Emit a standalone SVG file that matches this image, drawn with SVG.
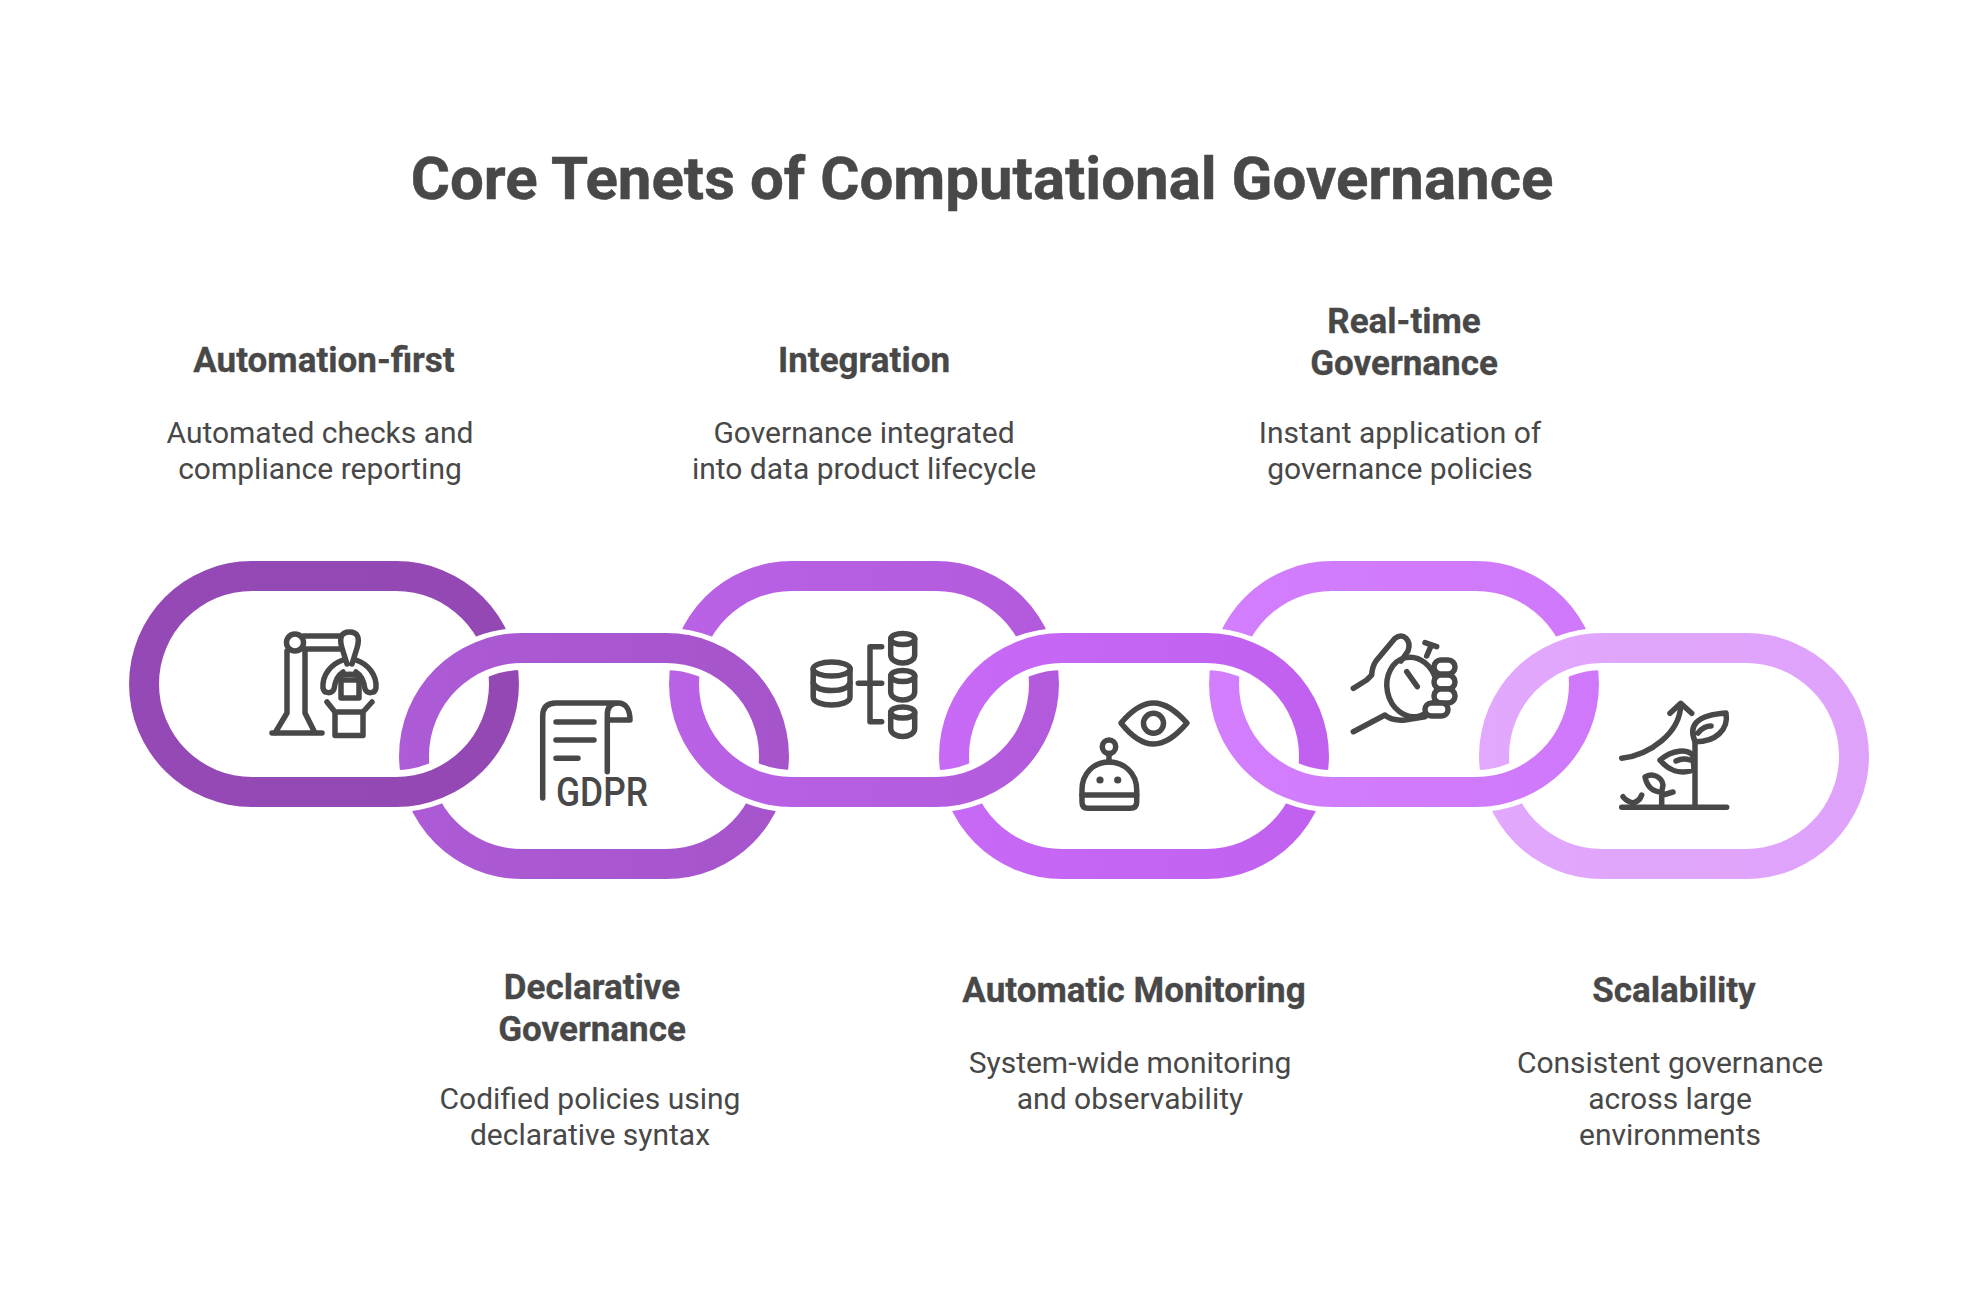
<svg xmlns="http://www.w3.org/2000/svg" width="1962" height="1296" viewBox="0 0 1962 1296">
<style>
text{font-family:Roboto,"Liberation Sans",sans-serif;fill:#484848;text-anchor:middle}
.title{font-size:60px;font-weight:700;stroke:#484848;stroke-width:.5}
.head{font-size:35px;font-weight:700;stroke:#484848;stroke-width:.3}
.body{font-size:30px;font-weight:400}
.ic{fill:none;stroke:#484848;stroke-width:5.5;stroke-linecap:round;stroke-linejoin:round}
.dot{fill:#484848;stroke:none}
.hs{fill:none;stroke:#fff}
.ho{stroke-width:10}
.hi{stroke-width:14}
.mk{fill:#000}
.mo{fill:none;stroke:#000;stroke-width:10}
.mi{fill:none;stroke:#000;stroke-width:14}
</style>
<defs>
<path id="ring" fill-rule="evenodd" d="M123 0H267A123 123 0 0 1 267 246H123A123 123 0 0 1 123 0ZM123 30H267A93 93 0 0 1 267 216H123A93 93 0 0 1 123 30Z"/>
<path id="outer" d="M123 0H267A123 123 0 0 1 267 246H123A123 123 0 0 1 123 0Z"/>
<path id="inner" d="M123 30H267A93 93 0 0 1 267 216H123A93 93 0 0 1 123 30Z"/>
<linearGradient id="g1"><stop offset="0" stop-color="#9549b6"/><stop offset="1" stop-color="#9348b3"/></linearGradient>
<linearGradient id="g2"><stop offset="0" stop-color="#ad5bd6"/><stop offset="1" stop-color="#a654cb"/></linearGradient>
<linearGradient id="g3"><stop offset="0" stop-color="#b962e6"/><stop offset="1" stop-color="#b35adc"/></linearGradient>
<linearGradient id="g4"><stop offset="0" stop-color="#c76af6"/><stop offset="1" stop-color="#c160ef"/></linearGradient>
<linearGradient id="g5"><stop offset="0" stop-color="#d27efd"/><stop offset="1" stop-color="#cf78fb"/></linearGradient>
<linearGradient id="g6"><stop offset="0" stop-color="#e2a8fd"/><stop offset="1" stop-color="#dfa2fb"/></linearGradient>
<clipPath id="upper"><rect x="0" y="0" width="1962" height="720"/></clipPath>
<clipPath id="lower"><rect x="0" y="720" width="1962" height="576"/></clipPath>
<mask id="under" maskUnits="userSpaceOnUse" x="0" y="0" width="1962" height="1296">
<rect x="0" y="0" width="1962" height="1296" fill="#fff"/>
<g clip-path="url(#lower)">
<use href="#ring" x="129" y="561" class="mk"/>
<use href="#ring" x="669" y="561" class="mk"/>
<use href="#ring" x="1209" y="561" class="mk"/>
<use href="#outer" x="129" y="561" class="mo"/>
<use href="#outer" x="669" y="561" class="mo"/>
<use href="#outer" x="1209" y="561" class="mo"/>
<use href="#inner" x="129" y="561" class="mi"/>
<use href="#inner" x="669" y="561" class="mi"/>
<use href="#inner" x="1209" y="561" class="mi"/>
</g>
</mask>
<g id="sdb"><ellipse cx="0" cy="8" rx="12" ry="5.5"/><path d="M-12 8V24C-12 29-6 32 0 32C6 32 12 29 12 24V8"/></g>
</defs>
<rect x="0" y="0" width="1962" height="1296" fill="#fff"/>
<text class="title" x="982" y="199">Core Tenets of Computational Governance</text>

<g id="node-1">
<use href="#ring" x="129" y="561" fill="url(#g1)"/>
<g class="ic">
<circle cx="295" cy="642.5" r="8.5"/>
<path d="M303.5 636H341M303.5 649H341"/>
<path d="M287 651V713L275 733M305 651V713L315 733M272 733H322"/>
<path d="M347 664L342 648C339 638 341 632 349.5 632C358 632 360 638 357 648L352 664"/>
<path d="M343 660C331 664 322 675 323 688C324 694 332 694 334 689C335 681 338 675 343 672"/>
<path d="M356 660C368 664 377 675 376 688C375 694 367 694 365 689C364 681 361 675 356 672"/>
<path d="M338 678C342 673 357 673 361 678"/>
<rect x="341" y="680" width="18" height="18"/>
<path d="M327 702L335 712H363L372 702M335 712V735.5H363V712"/>
</g>
<text class="head" x="324" y="372">Automation-first</text>
<text class="body" x="320" y="443">Automated checks and</text>
<text class="body" x="320" y="479">compliance reporting</text>
</g>

<g id="node-3">
<use href="#ring" x="669" y="561" fill="url(#g3)"/>
<g class="ic">
<ellipse cx="831.7" cy="669" rx="18.5" ry="7"/>
<path d="M813.2 669V697C813.2 702 822 705 831.7 705C841 705 850 702 850 697V669"/>
<path d="M813.2 683C815 688 822 690.5 831.7 690.5C841 690.5 848 688 850 683"/>
<path d="M881.7 646.7H870V721.7H881.7M858.3 683.3H881.7"/>
<use href="#sdb" x="902.7" y="631"/>
<use href="#sdb" x="902.7" y="668"/>
<use href="#sdb" x="902.7" y="704.5"/>
</g>
<text class="head" x="864" y="372">Integration</text>
<text class="body" x="864" y="443">Governance integrated</text>
<text class="body" x="864" y="479">into data product lifecycle</text>
</g>

<g id="node-5">
<use href="#ring" x="1209" y="561" fill="url(#g5)"/>
<g class="ic">
<path d="M1353.3 688.3L1366.7 680L1371.7 675C1372 668 1374 664 1376 661L1395 638.3C1403 632 1412 640 1408 651L1401 661"/>
<ellipse cx="1412" cy="687" rx="25" ry="30" transform="rotate(-12 1412 687)"/>
<path d="M1426.7 656L1430.7 646.7M1425 642.7L1436.7 646.7M1406.7 671.7L1417.3 686.7"/>
<path d="M1353.3 731.7L1385 715C1390 720 1400 720.5 1405 720L1425 716.7"/>
<g fill="#fff">
<rect x="1434" y="660" width="21" height="14" rx="7"/>
<rect x="1434" y="675" width="21" height="14" rx="7"/>
<rect x="1434" y="689" width="21" height="14" rx="7"/>
<rect x="1425" y="703" width="23" height="13" rx="6.5"/>
</g>
</g>
<text class="head" x="1404" y="333">Real-time</text>
<text class="head" x="1404" y="375">Governance</text>
<text class="body" x="1400" y="443">Instant application of</text>
<text class="body" x="1400" y="479">governance policies</text>
</g>

<g id="node-2">
<g clip-path="url(#upper)"><use href="#outer" x="399" y="633" class="hs ho"/><use href="#inner" x="399" y="633" class="hs hi"/></g>
<g mask="url(#under)"><use href="#ring" x="399" y="633" fill="url(#g2)"/></g>
<g class="ic">
<path d="M542.7 798V716Q542.7 703 556 703H618C626 703 630 710 630 720H607.3M607.3 771.7V715Q607.3 703 618 703"/>
<path d="M556 722H594M556 740H594M556 758.3H578"/>
</g>
<text x="602" y="806" font-size="40" font-weight="500" textLength="92" lengthAdjust="spacingAndGlyphs">GDPR</text>
<text class="head" x="592" y="999">Declarative</text>
<text class="head" x="592" y="1041">Governance</text>
<text class="body" x="590" y="1109">Codified policies using</text>
<text class="body" x="590" y="1145">declarative syntax</text>
</g>

<g id="node-4">
<g clip-path="url(#upper)"><use href="#outer" x="939" y="633" class="hs ho"/><use href="#inner" x="939" y="633" class="hs hi"/></g>
<g mask="url(#under)"><use href="#ring" x="939" y="633" fill="url(#g4)"/></g>
<g class="ic">
<path d="M1121 723C1132 710 1142 703 1153.5 703C1165 703 1175 710 1187 723C1175 737 1165 744 1153.5 744C1142 744 1132 737 1121 723Z"/>
<circle cx="1153.5" cy="723.3" r="10"/>
<circle cx="1109" cy="746.7" r="6.7"/>
<path d="M1109 753.5V762"/>
<path d="M1082 802V790C1082 773 1094 762 1109 762C1124 762 1136.7 773 1136.7 790V802Q1136.7 808.3 1130 808.3H1088Q1082 808.3 1082 802Z"/>
<path d="M1082 795H1136.7"/>
</g>
<circle class="dot" cx="1100" cy="780" r="3.6"/>
<circle class="dot" cx="1117.7" cy="780" r="3.6"/>
<text class="head" x="1134" y="1002">Automatic Monitoring</text>
<text class="body" x="1130" y="1073">System-wide monitoring</text>
<text class="body" x="1130" y="1109">and observability</text>
</g>

<g id="node-6">
<g clip-path="url(#upper)"><use href="#outer" x="1479" y="633" class="hs ho"/><use href="#inner" x="1479" y="633" class="hs hi"/></g>
<g mask="url(#under)"><use href="#ring" x="1479" y="633" fill="url(#g6)"/></g>
<g class="ic">
<path d="M1621.7 758.3C1650 755 1680 733 1680.7 705M1670 713.3L1680.7 703.3L1691.7 713.3"/>
<path d="M1621.7 807.3H1726.7M1695 807.3V742"/>
<path d="M1695 741.7C1688 725 1697 715 1726 713C1729 730 1715 742 1695 741.7ZM1698 733C1702 728 1707 726 1711 726"/>
<path d="M1660 760C1672 750 1688 748 1693 756L1694 770C1680 775 1668 770 1660 760ZM1676 761C1682 758 1687 759 1690 760"/>
<path d="M1661.7 807.3V792C1652 792 1647 786 1645 777C1652 772 1662 777 1663 785L1661.7 792M1663 795L1673 792"/>
<path d="M1623 796.7C1626 801 1630 802 1633 803C1637 802 1640 800 1641.7 795M1633 803V807"/>
</g>
<text class="head" x="1674" y="1002">Scalability</text>
<text class="body" x="1670" y="1073">Consistent governance</text>
<text class="body" x="1670" y="1109">across large</text>
<text class="body" x="1670" y="1145">environments</text>
</g>
</svg>
